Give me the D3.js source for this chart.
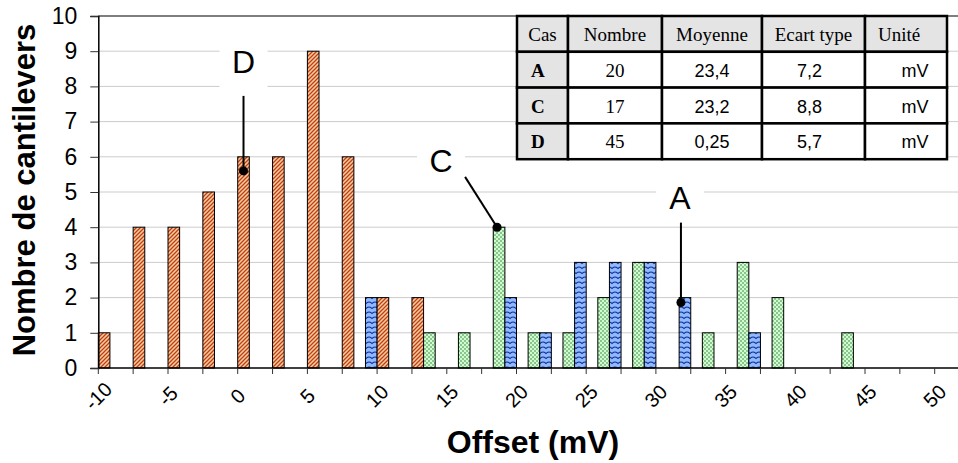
<!DOCTYPE html>
<html lang="fr">
<head>
  <meta charset="UTF-8">
  <title>Offset cantilevers</title>
  <script src="https://cdn.jsdelivr.net/npm/d3@7"></script>
  <style>
    body { margin: 0; background: #fff; }
    text { font-family: "Liberation Sans", Arial, sans-serif; }
    .serif { font-family: "Liberation Serif", "Times New Roman", serif; }
  </style>
</head>
<body>
  <svg id="chart"></svg>
  <script>
    // categories of the histogram (offset, mV) - one every 2.5 mV
    const offsets = [-10, -7.5, -5, -2.5, 0, 2.5, 5, 7.5, 10, 12.5, 15, 17.5, 20,
                     22.5, 25, 27.5, 30, 32.5, 35, 37.5, 40, 42.5, 45, 47.5, 50];
    const tickLabels = [-10, -5, 0, 5, 10, 15, 20, 25, 30, 35, 40, 45, 50];

    // counts per category, one array per series
    const countsD = [1, 4, 4, 5, 6, 6, 9, 6, 2, 2, 0, 0, 0, 0, 0, 0, 0, 0, 0, 0, 0, 0, 0, 0, 0];
    const countsGreen = [0, 0, 0, 0, 0, 0, 0, 0, 0, 1, 1, 4, 1, 1, 2, 3, 0, 1, 3, 2, 0, 1, 0, 0, 0];
    const countsBlue = [0, 0, 0, 0, 0, 0, 0, 2, 0, 0, 0, 2, 1, 3, 3, 3, 2, 0, 1, 0, 0, 0, 0, 0, 0];
    const seriesKeys = ['D', 'G', 'B'];

    // summary table
    const tableHeader = ['Cas', 'Nombre', 'Moyenne', 'Ecart type', 'Unité'];
    const tableCases = ['A', 'C', 'D'];
    const tableNombre = ['20', '17', '45'];
    const tableMoyenne = ['23,4', '23,2', '0,25'];
    const tableEcart = ['7,2', '8,8', '5,7'];
    const tableUnite = ['mV', 'mV', 'mV'];

    // callouts : category, series slot, dot value, top of line value, label value
    const callouts = [
      { label: 'D', cat: 0, slot: 0, dot: 5.6, top: 7.73, text: 8.38, dx: 0, lineDx: 0, textDx: 0 },
      { label: 'C', cat: 17.5, slot: 1, dot: 4.0, top: 5.43, text: 5.57, dx: -2, lineDx: -32, textDx: -56 },
      { label: 'A', cat: 30, slot: 2, dot: 1.86, top: 4.13, text: 4.51, dx: -4, lineDx: 0, textDx: -1 }
    ];

    let W = 958, H = 463;
    let plotLeft = 98.3, plotBottom = 368, plotTop = 16, step = 34.85;

    let svg = d3.select('#chart')
        .attr('width', W)
        .attr('height', H);

    // fill patterns
    let defs = svg.append('defs');
    let pD = defs.append('pattern').attr('id', 'patD')
        .attr('patternUnits', 'userSpaceOnUse').attr('width', 4).attr('height', 4);
    pD.append('rect').attr('width', 4).attr('height', 4).attr('fill', '#ffcc99');
    pD.append('path').attr('d', 'M-1,1 l2,-2 M0,4 l4,-4 M3,5 l2,-2')
        .attr('stroke', '#b8401c').attr('stroke-width', 1.3);

    let pG = defs.append('pattern').attr('id', 'patG')
        .attr('patternUnits', 'userSpaceOnUse').attr('width', 4).attr('height', 4);
    pG.append('rect').attr('width', 4).attr('height', 4).attr('fill', '#ccffcc');
    pG.append('circle').attr('cx', 1).attr('cy', 1).attr('r', 0.75).attr('fill', '#2d6a35');
    pG.append('circle').attr('cx', 3).attr('cy', 3).attr('r', 0.75).attr('fill', '#2d6a35');

    let pB = defs.append('pattern').attr('id', 'patB')
        .attr('patternUnits', 'userSpaceOnUse').attr('width', 6).attr('height', 5);
    pB.append('rect').attr('width', 6).attr('height', 5).attr('fill', '#8fbaff');
    pB.append('path').attr('d', 'M-0.5,4 Q3,0 6.5,4')
        .attr('fill', 'none').attr('stroke', '#16309a').attr('stroke-width', 1.2);

    const fills = { D: 'url(#patD)', G: 'url(#patG)', B: 'url(#patB)' };

    // scales
    let x = d3.scaleBand()
        .domain(offsets)
        .range([plotLeft, plotLeft + step * offsets.length])
        .padding(0);
    let xs = d3.scaleBand()
        .domain(seriesKeys)
        .range([0, x.bandwidth()])
        .padding(0);
    let y = d3.scaleLinear()
        .domain([0, 10])
        .range([plotBottom, plotTop]);

    // grid
    svg.append('g').selectAll('line')
        .data(d3.range(1, 10))
        .enter()
        .append('line')
        .attr('x1', plotLeft).attr('x2', W)
        .attr('y1', d => y(d)).attr('y2', d => y(d))
        .attr('stroke', '#cccccc').attr('stroke-width', 1);
    svg.append('line')
        .attr('x1', plotLeft).attr('x2', W)
        .attr('y1', y(10)).attr('y2', y(10))
        .attr('stroke', '#555').attr('stroke-width', 1.5);

    // bars
    let table = [];
    offsets.forEach((o, i) => {
      table.push({ off: o, key: 'D', v: countsD[i] });
      table.push({ off: o, key: 'G', v: countsGreen[i] });
      table.push({ off: o, key: 'B', v: countsBlue[i] });
    });
    svg.append('g').selectAll('rect')
        .data(table.filter(d => d.v > 0))
        .enter()
        .append('rect')
        .attr('x', d => x(d.off) + xs(d.key))
        .attr('y', d => y(d.v))
        .attr('width', xs.bandwidth())
        .attr('height', d => y(0) - y(d.v))
        .attr('fill', d => fills[d.key])
        .attr('stroke', '#000')
        .attr('stroke-width', 1);

    // y axis
    let yAxis = svg.append('g')
        .attr('transform', `translate(${plotLeft},0)`)
        .call(d3.axisLeft(y).ticks(10).tickSize(8).tickPadding(13));
    yAxis.select('.domain').attr('stroke', '#000').attr('stroke-width', 1.5);
    yAxis.selectAll('.tick line').attr('stroke', '#333');
    yAxis.selectAll('text')
        .attr('font-size', 23)
        .attr('font-family', '"Liberation Sans", Arial, sans-serif')
        .attr('fill', '#000');

    // x axis : ticks at category boundaries, labels every 5 mV
    let xg = svg.append('g');
    xg.append('line')
        .attr('x1', plotLeft).attr('x2', W)
        .attr('y1', plotBottom).attr('y2', plotBottom)
        .attr('stroke', '#000').attr('stroke-width', 1.5);
    xg.selectAll('.xt')
        .data(offsets)
        .enter()
        .append('line')
        .attr('class', 'xt')
        .attr('x1', d => x(d)).attr('x2', d => x(d))
        .attr('y1', plotBottom).attr('y2', plotBottom + 6)
        .attr('stroke', '#333');
    xg.selectAll('.xl')
        .data(tickLabels)
        .enter()
        .append('text')
        .attr('class', 'xl')
        .attr('transform', d => `translate(${x(d)},${plotBottom + 28}) rotate(-45)`)
        .attr('text-anchor', 'middle')
        .attr('dy', '0.35em')
        .attr('font-size', 20)
        .text(d => d);

    // axis titles
    svg.append('text')
        .attr('x', 533).attr('y', 453)
        .attr('text-anchor', 'middle')
        .attr('font-weight', 'bold')
        .attr('font-size', 32)
        .text('Offset (mV)');
    svg.append('text')
        .attr('transform', 'translate(35,190) rotate(-90)')
        .attr('text-anchor', 'middle')
        .attr('font-weight', 'bold')
        .attr('font-size', 31)
        .text('Nombre de cantilevers');

    // callouts
    let cg = svg.append('g');
    callouts.forEach(c => {
      let cx = x(c.cat) + xs(seriesKeys[c.slot]) + xs.bandwidth() / 2 + c.dx;
      let tx = cx + c.textDx;
      cg.append('rect')
          .attr('x', tx - 24).attr('y', y(c.text) - 35)
          .attr('width', 48).attr('height', 49)
          .attr('fill', '#fff');
      cg.append('text')
          .attr('x', tx).attr('y', y(c.text))
          .attr('text-anchor', 'middle')
          .attr('font-size', 32)
          .text(c.label);
      cg.append('line')
          .attr('x1', cx + c.lineDx).attr('y1', y(c.top))
          .attr('x2', cx).attr('y2', y(c.dot))
          .attr('stroke', '#000').attr('stroke-width', 2);
      cg.append('circle')
          .attr('cx', cx).attr('cy', y(c.dot))
          .attr('r', 4.5).attr('fill', '#000');
    });

    // summary table
    let colX = [517, 568, 662, 762, 865, 947];
    let rowY = [16, 51.8, 87.6, 123.4, 159.2];
    let tg = svg.append('g');
    let rows = [tableHeader].concat(tableCases.map((c, i) =>
        [c, tableNombre[i], tableMoyenne[i], tableEcart[i], tableUnite[i]]));
    rows.forEach((row, r) => {
      row.forEach((val, c) => {
        let gray = r === 0 || c === 0;
        tg.append('rect')
            .attr('x', colX[c]).attr('y', rowY[r])
            .attr('width', colX[c + 1] - colX[c])
            .attr('height', rowY[r + 1] - rowY[r])
            .attr('fill', gray ? '#e4e4e4' : '#fff')
            .attr('stroke', '#000')
            .attr('stroke-width', 2.5);
        let serif = r === 0 || c <= 1;
        let tx = (colX[c] + colX[c + 1]) / 2, anchor = 'middle';
        if (c === 0 && r > 0) { tx = colX[0] + 14; anchor = 'start'; }
        if (c === 4 && r === 0) { tx = colX[4] + 13; anchor = 'start'; }
        if (c === 4 && r > 0) { tx = colX[4] + 50; }
        if (c === 3 && r > 0) { tx -= 4; }
        let t = tg.append('text')
            .attr('x', tx)
            .attr('y', (rowY[r] + rowY[r + 1]) / 2 + 7)
            .attr('text-anchor', anchor)
            .attr('font-size', serif ? 19 : 18)
            .text(val);
        if (serif) t.attr('class', 'serif');
        if (c === 0 && r > 0) t.attr('font-weight', 'bold');
      });
    });
  </script>
</body>
</html>
